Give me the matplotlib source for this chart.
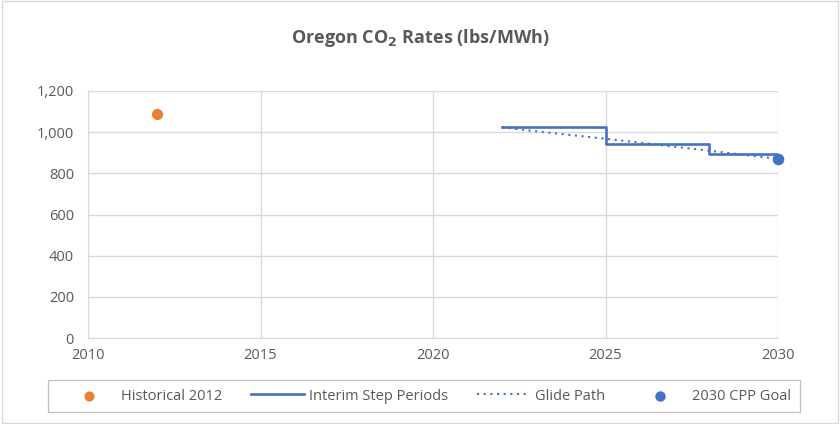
import matplotlib.pyplot as plt
from matplotlib.patches import Rectangle

# data
hist_year = [2012]
hist_rate = [1089]

step_years = [2022, 2025, 2028, 2030]
step_rates = [1026, 944, 893, 893]

glide_years = [2022, 2023, 2024, 2025, 2026, 2027, 2028, 2029, 2030]
glide_rates = [1024, 1004, 986, 968, 949, 929, 910, 890, 871]

goal_year = [2030]
goal_rate = [871]

x_ticks = [2010, 2015, 2020, 2025, 2030]
y_ticks = [0, 200, 400, 600, 800, 1000, 1200]

ORANGE = "#ED7D31"
BLUE = "#4472C4"
GREY_TXT = "#595959"
GRID = "#D9D9D9"

plt.rcParams["font.family"] = ["Open Sans", "DejaVu Sans"]

fig = plt.figure(figsize=(8.4, 4.24), dpi=100)
ax = fig.add_axes([88 / 840, 1 - 338 / 424, (778 - 88) / 840, (338 - 91) / 424])

ax.scatter(hist_year, hist_rate, s=65, color=ORANGE, zorder=3, label="Historical 2012", linewidths=0)
ax.step(step_years, step_rates, where="post", color=BLUE, lw=1.9, zorder=3, label="Interim Step Periods")
ax.plot(glide_years, glide_rates, color=BLUE, lw=1.5, ls=(0, (1, 2.2)), zorder=3, label="Glide Path")
ax.scatter(goal_year, goal_rate, s=70, color=BLUE, zorder=4, label="2030 CPP Goal", clip_on=False, linewidths=0)

ax.set_xlim(2010, 2030)
ax.set_ylim(0, 1200)
ax.set_xticks(x_ticks)
ax.set_yticks(y_ticks)
ax.set_yticklabels([f"{v:,}" for v in y_ticks])
ax.grid(True, color=GRID, lw=1)
ax.set_axisbelow(True)
ax.tick_params(length=0, labelsize=10.5, colors=GREY_TXT)
ax.tick_params(axis="y", pad=10)
ax.tick_params(axis="x", pad=7)
for side in ["top", "right"]:
    ax.spines[side].set_visible(False)
for side in ["left", "bottom"]:
    ax.spines[side].set_color(GRID)

fig.text(0.5, 1 - 38 / 424, r"Oregon CO$_\mathbf{2}$ Rates (lbs/MWh)", ha="center", va="center",
         fontsize=13, fontweight="bold", color=GREY_TXT)

leg = fig.legend(loc="center", bbox_to_anchor=(427 / 840, 1 - 396 / 424), ncol=4, fontsize=10.5,
                 frameon=False, handlelength=3.6, handletextpad=0.35, columnspacing=2.0,
                 markerscale=0.9, labelcolor=GREY_TXT)

# legend box drawn separately (fixed width like the reference)
fig.patches.append(Rectangle((48 / 840, 1 - 412 / 424), (800 - 48) / 840, 32 / 424,
                             transform=fig.transFigure, fill=False, edgecolor="#BFBFBF", lw=0.9))
# outer chart border
fig.patches.append(Rectangle((0.002, 0.002), 0.996, 0.996, transform=fig.transFigure,
                             fill=False, edgecolor="#D9D9D9", lw=1))

fig.savefig("out.png", dpi=100)
